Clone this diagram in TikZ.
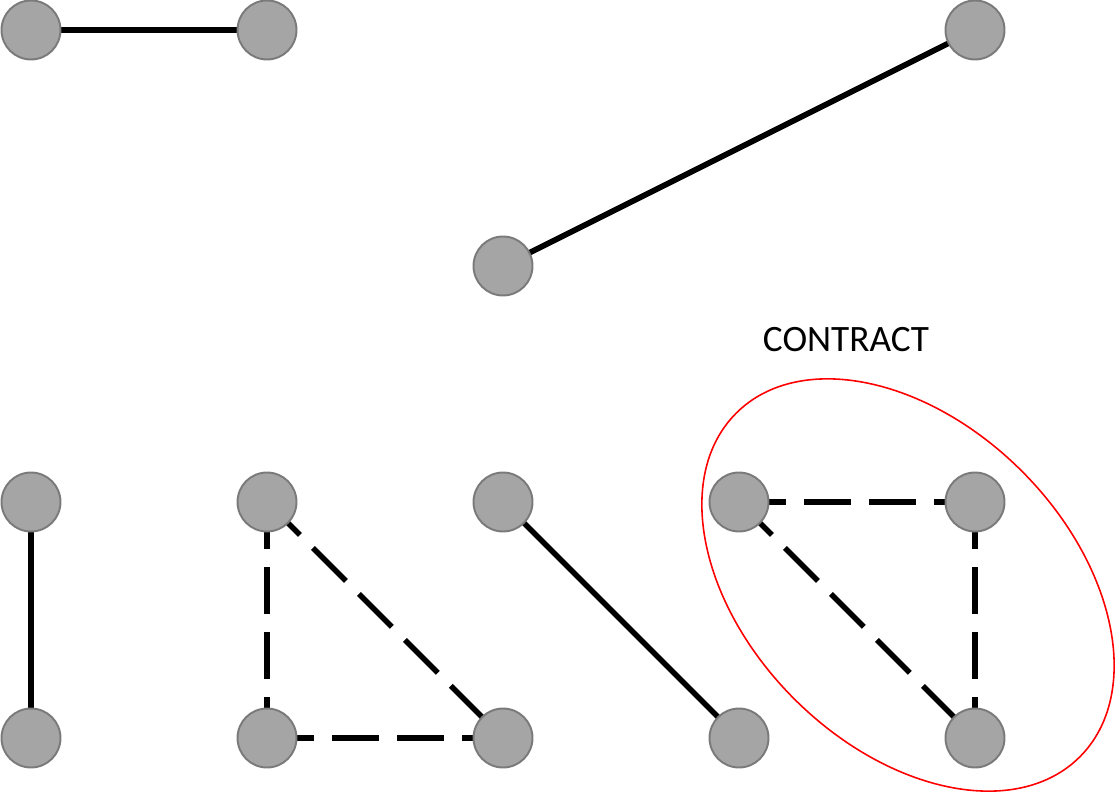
\documentclass[tikz,border=0pt]{standalone}
\usepackage{fontspec}
\setmainfont{Carlito}
\usetikzlibrary{backgrounds}
\definecolor{eckgrau}{HTML}{A5A5A5}
\definecolor{randgrau}{HTML}{7A7A7A}
\begin{document}
\begin{tikzpicture}[x=0.02cm, y=-0.02cm,
    ecke/.style={circle, minimum size=1.18cm, inner sep=0pt, draw=randgrau, fill=eckgrau, line width=1.1pt},
    kante/.style={line width=3.2pt},
    strich/.style={kante, dash pattern=on 26.5pt off 10.5pt},
]

\useasboundingbox (0,0) rectangle (1115,793);

\node [ecke] (a1) at (31,30){};
\node [ecke] (a2) at (267,30){};
\node [ecke] (b1) at (975,30){};
\node [ecke] (b2) at (503,266){};

\node [ecke] (c1) at (31,502){};
\node [ecke] (c2) at (31,738){};
\node [ecke] (d1) at (267,502){};
\node [ecke] (d2) at (267,738){};
\node [ecke] (d3) at (503,738){};
\node [ecke] (e1) at (503,502){};
\node [ecke] (e2) at (739,738){};
\node [ecke] (f1) at (739,502){};
\node [ecke] (f2) at (975,502){};
\node [ecke] (f3) at (975,738){};

\begin{scope}[on background layer]
\draw [kante] (a1.center) -- (a2.center);
\draw [kante] (b1.center) -- (b2.center);
\draw [kante] (c1.center) -- (c2.center);
\draw [kante] (e1.center) -- (e2.center);

\draw [strich] (d1.center) -- (d2.center);
\draw [strich] (d1.center) -- (d3.center);
\draw [strich] (d2.center) -- (d3.center);
\draw [strich] (f1.center) -- (f2.center);
\draw [strich] (f1.center) -- (f3.center);
\draw [strich] (f2.center) -- (f3.center);
\end{scope}

\node (kontrakt) at (846,340){\fontsize{21.2}{25}\selectfont CONTRACT};
\draw [red, line width=0.9pt] (908,585) ellipse [x radius=243, y radius=161, rotate=-45];

\end{tikzpicture}
\end{document}
